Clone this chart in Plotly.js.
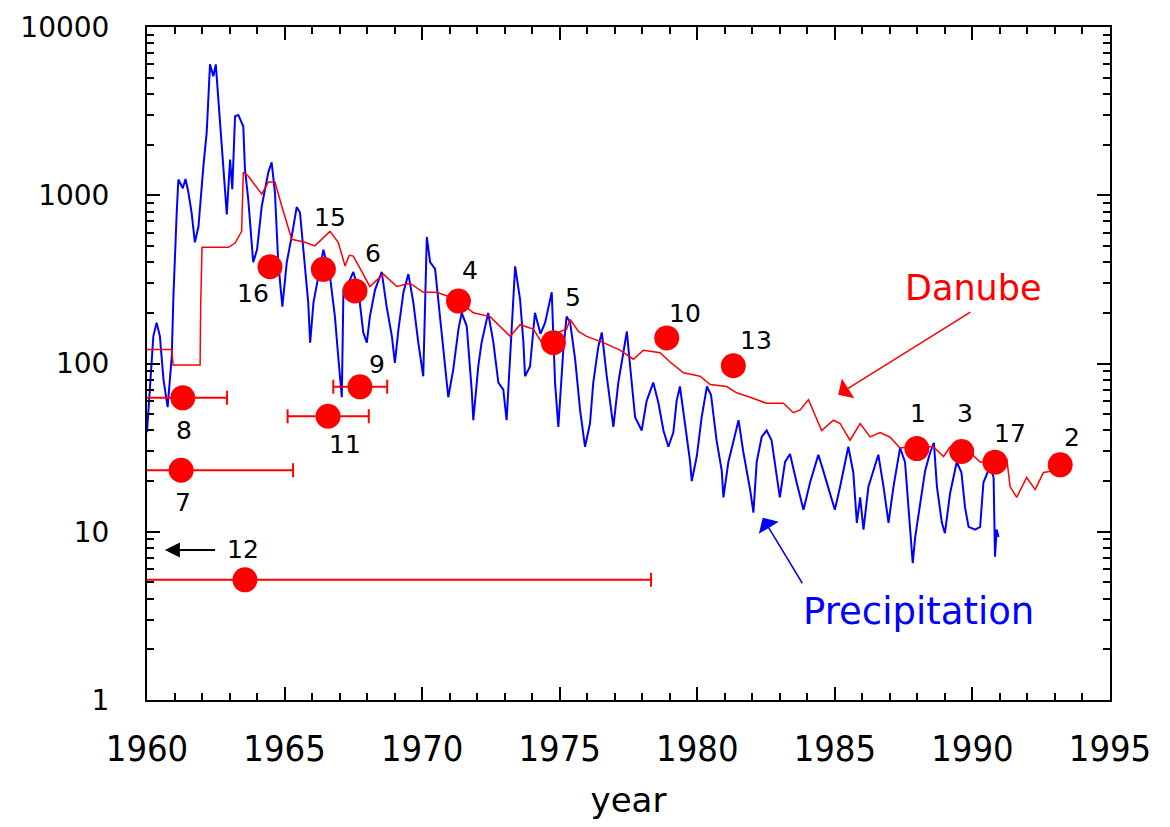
<!DOCTYPE html>
<html>
<head>
<meta charset="utf-8">
<script src="https://cdn.plot.ly/plotly-3.0.1.min.js"></script>
<style>html,body{margin:0;padding:0;background:#fff;}#chart{width:1170px;height:827px;}</style>
</head>
<body>
<div id="chart"></div>
<script>
// Precipitation (blue line)
const precipYear = [1960.0,1960.23,1960.35,1960.47,1960.6,1960.75,1960.9,1960.96,1961.08,1961.14,1961.3,1961.4,1961.5,1961.62,1961.74,1961.87,1962.05,1962.17,1962.29,1962.41,1962.5,1962.65,1962.84,1962.9,1963.02,1963.1,1963.2,1963.32,1963.5,1963.56,1963.68,1963.86,1964.0,1964.17,1964.41,1964.53,1964.65,1964.77,1964.92,1965.08,1965.26,1965.44,1965.56,1965.68,1965.86,1965.93,1966.05,1966.23,1966.41,1966.65,1966.83,1966.95,1967.08,1967.14,1967.32,1967.5,1967.68,1967.86,1967.99,1968.1,1968.29,1968.53,1968.71,1968.9,1969.01,1969.14,1969.32,1969.5,1969.68,1969.86,1970.04,1970.17,1970.29,1970.47,1970.65,1970.83,1970.95,1971.13,1971.32,1971.44,1971.62,1971.8,1971.86,1972.04,1972.16,1972.4,1972.59,1972.77,1972.95,1973.07,1973.25,1973.38,1973.56,1973.68,1973.74,1973.92,1974.1,1974.3,1974.47,1974.6,1974.71,1974.83,1974.95,1975.13,1975.25,1975.38,1975.56,1975.74,1975.92,1976.1,1976.22,1976.4,1976.53,1976.71,1976.95,1977.13,1977.31,1977.44,1977.56,1977.74,1977.98,1978.16,1978.4,1978.59,1978.77,1978.95,1979.13,1979.25,1979.37,1979.56,1979.74,1979.8,1979.98,1980.16,1980.35,1980.5,1980.7,1980.89,1980.95,1981.13,1981.31,1981.5,1981.67,1981.92,1982.04,1982.16,1982.34,1982.52,1982.7,1982.89,1983.0,1983.19,1983.37,1983.61,1983.86,1984.1,1984.4,1984.58,1984.83,1985.0,1985.19,1985.37,1985.49,1985.67,1985.8,1985.92,1986.04,1986.22,1986.4,1986.58,1986.77,1986.95,1987.13,1987.37,1987.55,1987.74,1987.83,1987.92,1988.1,1988.28,1988.46,1988.6,1988.71,1988.89,1989.0,1989.19,1989.43,1989.6,1989.73,1989.86,1990.1,1990.28,1990.4,1990.64,1990.77,1990.82,1990.88,1990.95];
const precipValue = [39,145,175,145,80,55,110,250,790,1240,1100,1250,1050,790,525,650,1490,2370,6000,5100,6000,2830,1130,770,1630,1086,2950,3000,2560,1430,946,400,475,860,1370,1570,1040,400,218,400,570,850,790,500,230,133,230,330,475,330,190,110,63,275,300,350,275,153,133,190,275,350,218,145,101,160,265,340,230,133,84,565,400,365,190,96,63,92,160,200,167,70,46,96,133,200,133,77,70,46,145,378,240,133,84,96,200,150,175,220,265,77,42,120,190,175,106,53,32,44,77,125,153,84,42,77,120,155,96,48,40,60,77,58,40,32,39,60,73,44,26,20,28,48,73,65,35,23,16,26,35,46,30,17.8,13,26,36.6,40,35,21,16,26,29,19.6,13.5,19.6,28.7,23,17,13.5,18.5,26,32,22.5,11.3,16,10.3,18.5,23,28.7,18.5,11.3,18.5,31.5,26,10.3,6.5,9.3,14.9,23,29.5,33.8,18.5,11.3,9.8,17,26,22.5,14,10.7,10.3,10.7,19.6,24.5,21,7.1,10.3,9.3];

// Danube (red line)
const danubeYear = [1960.0,1960.9,1960.95,1961.93,1961.95,1962.0,1962.96,1963.2,1963.44,1963.5,1963.68,1964.17,1964.41,1964.65,1964.9,1965.26,1965.74,1966.1,1966.65,1966.95,1967.2,1967.35,1967.5,1967.8,1968.1,1968.59,1969.08,1969.56,1970.04,1970.53,1971.26,1971.86,1972.47,1973.2,1973.56,1974.04,1974.35,1974.8,1975.25,1975.38,1975.68,1975.98,1976.59,1977.19,1977.68,1978.04,1978.65,1979.01,1979.5,1980.1,1980.47,1981.07,1981.43,1981.92,1982.52,1983.13,1983.49,1983.74,1984.04,1984.52,1984.95,1985.19,1985.55,1985.92,1986.28,1986.64,1987.0,1987.37,1987.74,1988.58,1988.95,1989.19,1989.92,1990.28,1990.77,1991.25,1991.37,1991.61,1991.97,1992.28,1992.58,1992.94,1993.31];
const danubeValue = [121,121,98,98,218,490,490,520,610,1370,1300,1014,1200,1200,860,547,525,500,610,525,380,440,435,350,287,340,287,300,265,265,240,200,190,145,170,160,133,150,160,183,155,145,133,120,106,120,116,102,88,84,75,73,67,63,58,58,51,53,61,40,46,44,35,44,36.6,38.8,36.6,31.5,32,32,28,32,29.5,26,26,27,18.5,16,21,17.8,22.5,23,26];

// Measurements (red dots)
const ptLabel = ['1','2','3','4','5','6','7','8','9','10','11','13','15','16','17',''];
const ptYear  = [1987.98,1993.19,1989.61,1971.32,1974.77,1967.56,1961.24,1961.3,1967.74,1978.89,1966.58,1981.31,1966.41,1964.47,1990.82,1963.56];
const ptValue = [31.2,25,30,235,133,270,23.2,62.5,72.7,142,48.6,97,363,376,25.9,5.18];
const ptErrMinus = [0,0,0,0,0,0,3,3,0.97,0,1.47,0,0,0,0,6];
const ptErrPlus  = [0,0,0,0,0,0,4.07,1.61,0.99,0,1.48,0,0,0,0,14.76];

// Upper limit (arrow) measurement
const limLabel = '12';
const limYear = 1960.65;
const limValue = 7.8;

// label offsets (pixels) - styling
const labelShift = [[1,-35],[12,-27],[3,-38],[12,-31],[20,-45],[18,-37],[2,32],[1,33],[17,-22],[18,-24],[17,28],[23,-25],[7,-52],[-17,27],[15,-29],[0,0]];

const yTickVals = [1,10,100,1000,10000];
const yTickText = ['1','10','100','1000','10000'];
const xTickVals = [1960,1965,1970,1975,1980,1985,1990,1995];

const yMinor = [];
for (let d = 1; d <= 1000; d *= 10) for (let k = 2; k <= 9; k++) yMinor.push(k*d);

const traces = [
  {x: precipYear, y: precipValue, type:'scatter', mode:'lines', line:{color:'#0000ff', width:2}, hoverinfo:'skip'},
  {x: danubeYear, y: danubeValue, type:'scatter', mode:'lines', line:{color:'#ff0000', width:1.5}, hoverinfo:'skip'},
  {x: ptYear, y: ptValue, type:'scatter', mode:'markers',
   marker:{color:'#ff0000', size:25, line:{width:0}},
   error_x:{type:'data', symmetric:false, array: ptErrPlus, arrayminus: ptErrMinus, color:'#ff0000', thickness:2, width:7},
   hoverinfo:'skip'}
];

const numFont = {family:'DejaVu Sans, Arial, sans-serif', size:25, color:'#000'};
const annotations = [];
ptLabel.forEach((t,i)=>{
  if (!t) return;
  annotations.push({x: ptYear[i], y: Math.log10(ptValue[i]), xref:'x', yref:'y', text:t, showarrow:false,
    xshift: labelShift[i][0], yshift: -labelShift[i][1], font:numFont});
});
// 12 arrow
annotations.push({x: limYear, y: Math.log10(limValue), xref:'x', yref:'y', ax: 1962.53, ay: Math.log10(limValue), axref:'x', ayref:'y',
  text:'', showarrow:true, arrowhead:2, arrowsize:1.5, arrowwidth:2, arrowcolor:'#000'});
annotations.push({x: 1963.5, y: Math.log10(limValue), xref:'x', yref:'y', text: limLabel, showarrow:false, font:numFont});
// Danube label + arrow
annotations.push({x: 1990.03, y: 2.446, xref:'x', yref:'y', text:'Danube', showarrow:false,
  font:{family:'DejaVu Sans, Arial, sans-serif', size:35, color:'#ff0000'}});
annotations.push({x: 1985.12, y: 1.815, xref:'x', yref:'y', ax: 1989.98, ay: 2.311, axref:'x', ayref:'y',
  text:'', showarrow:true, arrowhead:1, arrowsize:2.6, arrowwidth:1.5, arrowcolor:'#ff0000'});
// Precipitation label + arrow
annotations.push({x: 1988.03, y: 0.524, xref:'x', yref:'y', text:'Precipitation', showarrow:false,
  font:{family:'DejaVu Sans, Arial, sans-serif', size:37, color:'#0000ff'}});
annotations.push({x: 1982.38, y: 1.083, xref:'x', yref:'y', ax: 1983.85, ay: 0.685, axref:'x', ayref:'y',
  text:'', showarrow:true, arrowhead:1, arrowsize:2.6, arrowwidth:1.5, arrowcolor:'#0000ff'});

const layout = {
  width:1170, height:827,
  margin:{l:147, r:60, t:27, b:127},
  paper_bgcolor:'#fff', plot_bgcolor:'#fff',
  showlegend:false,
  xaxis:{
    range:[1960,1995], tickmode:'array', tickvals:xTickVals,
    ticks:'inside', ticklen:13, tickwidth:2, tickcolor:'#000',
    mirror:'allticks', showline:true, linewidth:2, linecolor:'#000',
    showgrid:false, zeroline:false,
    minor:{dtick:1, tick0:1960, ticks:'inside', ticklen:7, tickwidth:2, tickcolor:'#000', showgrid:false},
    tickfont:{family:'DejaVu Sans Condensed, DejaVu Sans, sans-serif', size:36, color:'#000'},
    ticklabelstandoff:16,
    title:{text:'year', font:{family:'DejaVu Sans, sans-serif', size:34, color:'#000'}, standoff:20}
  },
  yaxis:{
    type:'log', range:[0,4], tickmode:'array', tickvals:yTickVals, ticktext:yTickText,
    ticks:'inside', ticklen:13, tickwidth:2, tickcolor:'#000',
    mirror:'allticks', showline:true, linewidth:2, linecolor:'#000',
    showgrid:false, zeroline:false,
    minor:{tickmode:'array', tickvals:yMinor, ticks:'inside', ticklen:7, tickwidth:2, tickcolor:'#000', showgrid:false},
    tickfont:{family:'DejaVu Sans, sans-serif', size:28, color:'#000'},
    ticklabelstandoff:30
  },
  annotations: annotations
};

Plotly.newPlot('chart', traces, layout, {staticPlot:true, displayModeBar:false});
</script>
</body>
</html>
